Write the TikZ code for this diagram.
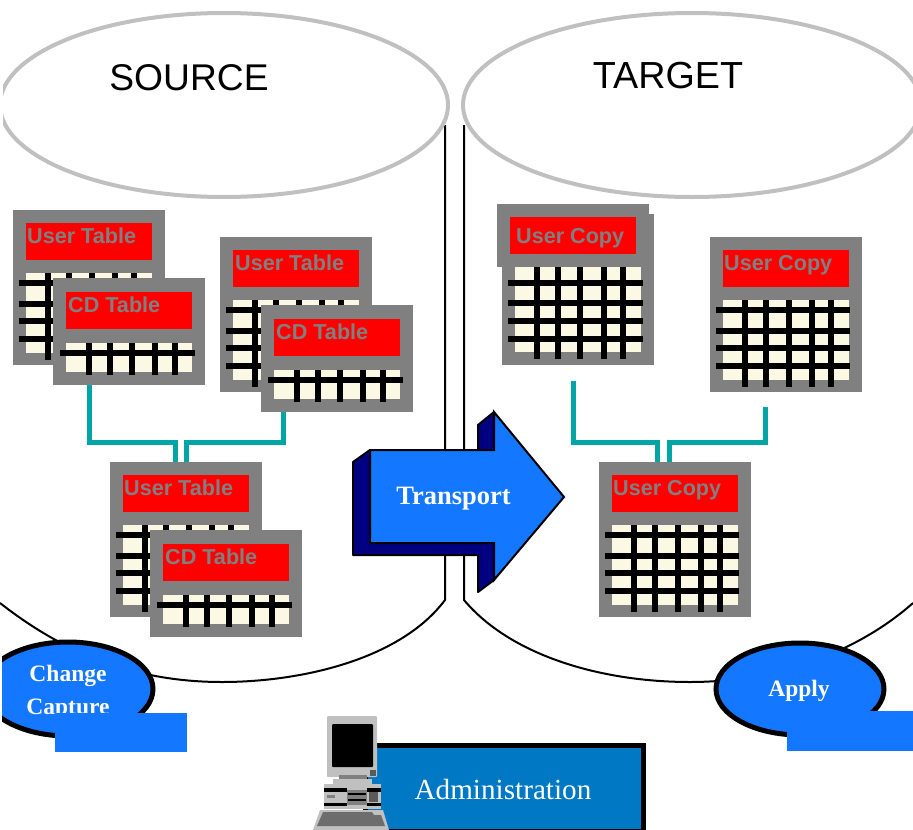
\documentclass[tikz,border=0pt]{standalone}
\usepackage{fontspec}
\setmainfont{Liberation Serif}
\newfontfamily\arialf{Liberation Sans}
\usetikzlibrary{calc}
\definecolor{blueA}{HTML}{1477FF}
\definecolor{navyA}{HTML}{000080}
\definecolor{tealA}{HTML}{00A6A6}
\definecolor{creamA}{HTML}{FBF9E3}
\definecolor{adminA}{HTML}{0078C4}
\definecolor{ltgray}{HTML}{C0C0C0}
\definecolor{midgray}{HTML}{808080}
\tikzset{
  plain/.style={inner sep=0pt,outer sep=0pt,draw=none,anchor=north west},
  panel/.style={plain,fill=midgray,minimum width=152pt},
  redbar/.style={plain,fill=red,minimum width=126pt,minimum height=37pt},
  creamcell/.style={plain,fill=creamA,minimum width=126pt},
  gridline/.style={black,line width=5.3pt},
  tabletext/.style={inner sep=0pt,anchor=base west,text=midgray,font=\arialf\bfseries\fontsize{21.6}{24}\selectfont},
  connector/.style={tealA,line width=5pt},
  cyl/.style={black,line width=2pt},
  lid/.style={draw=ltgray,fill=white,line width=4pt},
  blob/.style={draw=black,fill=blueA,line width=5pt},
  bluebar/.style={plain,fill=blueA},
  whitebold/.style={text=white,inner sep=0pt,font=\bfseries\fontsize{23.5}{26}\selectfont},
}
% name, x, y, label, text dx
\newcommand{\usertab}[5]{%
 \begin{scope}[shift={(#2,#3)}]
  \node[panel,minimum height=155pt] (#1) at (0,0) {};
  \node[redbar] (#1r) at (13,13) {};
  \node[tabletext] (#1t) at (#5,33) {#4};
  \node[creamcell,minimum height=80pt] (#1c) at (13,63) {};
  \foreach \yy in {73,94,111,129} \draw[gridline] (6,\yy) -- (140,\yy);
  \foreach \xx in {35,56,79,102,121} \draw[gridline] (\xx,63) -- (\xx,150);
 \end{scope}}
\newcommand{\cdtab}[3]{%
 \begin{scope}[shift={(#2,#3)}]
  \node[panel,minimum height=107pt] (#1) at (0,0) {};
  \node[redbar] (#1r) at (13,14) {};
  \node[tabletext] (#1t) at (15,34) {CD Table};
  \node[creamcell,minimum height=29pt] (#1c) at (13,65) {};
  \draw[gridline] (7,75) -- (142,75);
  \foreach \xx in {36,57,79,102,122} \draw[gridline] (\xx,65) -- (\xx,97);
 \end{scope}}
\begin{document}
\begin{tikzpicture}[x=1pt,y=-1pt]
\useasboundingbox (0,0) rectangle (913,830);
\clip (0,0) rectangle (913,830);
% cylinders
\draw[cyl] (445,125) -- (445,600) .. controls (400,660) and (300,682) .. (222,682) .. controls (130,682) and (60,650) .. (0,603);
\draw[cyl] (464,125) -- (464,600) .. controls (510,655) and (600,682) .. (690,682) .. controls (780,682) and (860,650) .. (913,603);
\begin{scope}
 \clip (3,0) rectangle (913,300);
 \draw[lid] (224,105) ellipse [x radius=224,y radius=92];
 \draw[lid] (692,105) ellipse [x radius=229,y radius=92];
\end{scope}
\node[inner sep=0pt,font=\arialf\fontsize{37.2}{40}\selectfont] (src) at (189,78) {SOURCE};
\node[inner sep=0pt,font=\arialf\fontsize{37.7}{40}\selectfont] (tgt) at (668,76) {TARGET};
% source tables
\usertab{ua}{13}{210}{User Table}{14}
\cdtab{ca}{53}{278}
\usertab{ub}{220}{237}{User Table}{15}
\cdtab{cb}{261}{305}
% teal connectors
\coordinate (ja) at ([xshift=36pt]ca.south west);
\coordinate (jb) at ([xshift=22pt]cb.south west);
\usertab{uc}{110}{462}{User Table}{14}
\cdtab{cc}{150}{530}
\draw[connector] (ja) |- (175,442) -- ([xshift=65pt]uc.north west);
\draw[connector] (jb) |- (186,442) -- ([xshift=76pt]uc.north west);
% target tables
\node[plain,fill=midgray,minimum width=152pt,minimum height=63pt] (pb) at (497,204) {};
\begin{scope}[shift={(502,214)}]
 \node[panel,minimum height=151pt] (ud) at (0,0) {};
 \node[redbar] (udr) at (8,3) {};
 \node[creamcell,minimum height=85pt] (udc) at (13,53) {};
 \foreach \yy in {69,89,107,125} \draw[gridline] (6,\yy) -- (141,\yy);
 \foreach \xx in {35,56,78,102,121} \draw[gridline] (\xx,53) -- (\xx,145);
\end{scope}
\node[plain,fill=midgray,minimum width=152pt,minimum height=10pt] (pc) at (497,204) {};
\node[redbar] (pr) at (510,217) {};
\node[tabletext] at (516,243) (pt) {User Copy};
\usertab{ue}{710}{237}{User Copy}{14}
\usertab{uf}{599}{462}{User Copy}{14}
\coordinate (jc) at (573,381);
\coordinate (jd) at (765,407);
\draw[connector] (jc) |- (657,442) -- ([xshift=58pt]uf.north west);
\draw[connector] (jd) |- (669,442) -- ([xshift=70pt]uf.north west);
% transport arrow
\draw[fill=navyA,draw=black,line width=2pt,line join=round]
  (370,450) -- (353,462) -- (353,555) -- (478,555) -- (478,592) -- (494,580) -- (494,412) -- (478,425) -- (478,450) -- cycle;
\draw[fill=blueA,draw=black,line width=2pt,line join=miter]
  (370,450) -- (494,450) -- (494,412) -- (564,497) -- (494,580) -- (494,543) -- (370,543) -- cycle;
\node[text=white,inner sep=0pt,font=\bfseries\fontsize{26.5}{28}\selectfont] (tr) at (453.5,498.5) {Transport};
% change capture
\begin{scope}
 \clip (2,600) rectangle (913,830);
 \draw[blob] (68,689) ellipse [x radius=85,y radius=47];
\end{scope}
\node[whitebold] (cc1) at (68,676) {Change};
\node[whitebold] (cc2) at (68,709) {Capture};
\node[bluebar,minimum width=132pt,minimum height=39pt] (bara) at (55,713) {};
% apply
\draw[blob] (800,689) ellipse [x radius=84,y radius=46];
\node[whitebold] (ap) at (799,691) {Apply};
\node[bluebar,minimum width=126pt,minimum height=40pt] (barb) at (787,711) {};
% administration
\draw[draw=black,fill=adminA,line width=5pt] (365,745) rectangle (643,831.5);
\node[text=white,inner sep=0pt,font=\fontsize{29.2}{32}\selectfont] (adm) at (503,790) {Administration};
% computer
\fill[ltgray,rounded corners=1pt] (327,716) rectangle (377,777);
\fill[black,rounded corners=1pt] (332,724) rectangle (373,767);
\fill[midgray!70!black] (370,770) rectangle (376,776);
\fill[midgray] (339,775) rectangle (367,779);
\fill[ltgray] (333,779) rectangle (372,786);
\fill[ltgray] (324,784) rectangle (381,809);
\fill[black] (324,788) rectangle (347,792);
\fill[black] (367,788) rectangle (381,792);
\fill[black] (324,803) rectangle (347,806);
\fill[black] (367,803) rectangle (381,806);
\fill[midgray] (347,790) rectangle (367,805);
\fill[black] (348,793) rectangle (366,795);
\fill[black] (348,799) rectangle (366,801);
\fill[midgray!70!black] (369,792) rectangle (378,802);
\fill[midgray] (327,795) rectangle (335,798);
\fill[ltgray] (320,810) -- (383,810) -- (389,830) -- (313,830) -- cycle;
\fill[midgray!85!black] (323,812) -- (372,812) -- (374,815) -- (381,815) -- (385,826) -- (317,826) -- cycle;
\end{tikzpicture}
\end{document}
